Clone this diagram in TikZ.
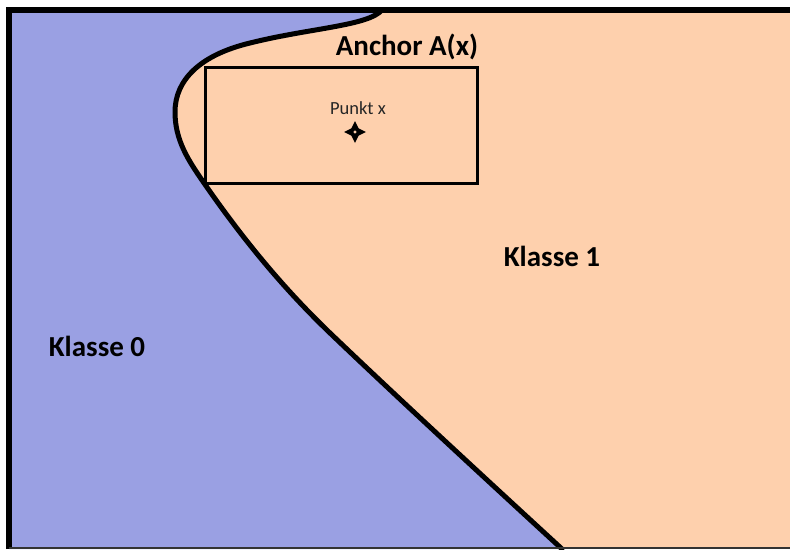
\documentclass[tikz,border=0pt]{standalone}
\usepackage{fontspec}
\setmainfont{Carlito}
\definecolor{klblue}{RGB}{154,160,227}
\definecolor{klpeach}{RGB}{254,208,173}
\tikzset{
  biglabel/.style={font=\fontsize{29}{34}\selectfont\bfseries, text=black, inner sep=0pt},
  smalllabel/.style={font=\fontsize{18.5}{22}\selectfont, text=black!85, inner sep=0pt},
  boundary/.style={line width=5pt, line join=round, line cap=round},
}
\def\boundarypath{(382,10) .. controls (368,26) and (310,28) .. (250,43) .. controls (200,55) and (175,80) .. (175,112) .. controls (175,140) and (188,160) .. (204,183) .. controls (240,235) and (280,285) .. (330,333) .. controls (400,400) and (500,492) .. (562,549)}
\begin{document}
\begin{tikzpicture}[x=1pt,y=-1pt]
\useasboundingbox (0,0) rectangle (790,549);
% background regions
\fill[klpeach] (9,10) rectangle (790,549);
\fill[klblue] (9,10) -- \boundarypath -- (9,549) -- cycle;
% decision boundary
\draw[boundary] \boundarypath;
% frame
\draw[line width=6pt] (9,549) -- (9,10) -- (790,10);
\draw[line width=2pt, black!80] (9,548) -- (790,548);
% anchor box
\node[draw, line width=3pt, minimum width=272pt, minimum height=116pt, inner sep=0pt] (anchorbox) at (341,125) {};
% labels
\node[biglabel] (anchorlabel) at (407,47) {Anchor A(x)};
\node[biglabel] (klasse0) at (97,346) {Klasse 0};
\node[biglabel] (klasse1) at (552,256) {Klasse 1};
\node[smalllabel] (punktlabel) at (358,108) {Punkt x};
% point marker
\coordinate (punkt) at (355,132);
\fill[black, even odd rule] (355,121) -- (358.6,128.4) -- (366,132) -- (358.6,135.6) -- (355,143) -- (351.4,135.6) -- (344,132) -- (351.4,128.4) -- cycle (punkt) circle (1.8);
\end{tikzpicture}
\end{document}
